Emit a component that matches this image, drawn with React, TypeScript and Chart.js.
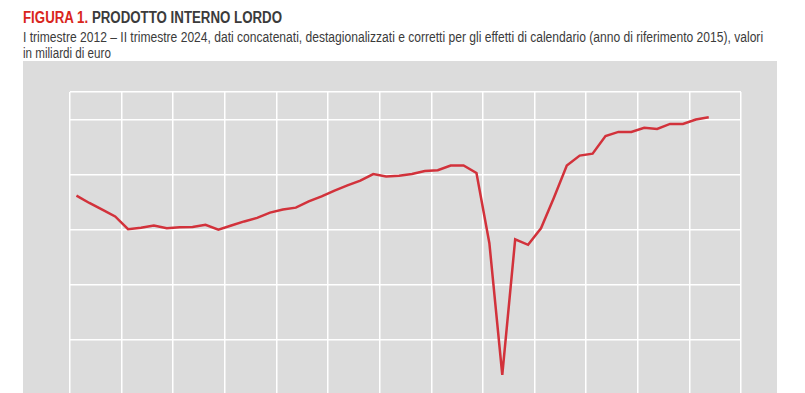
import React, { useEffect, useLayoutEffect, useRef } from "react";
import { Chart, registerables } from "chart.js";

Chart.register(...registerables);

// Quarters I 2012 – II 2024 (50 quarters)
const years = [2012, 2013, 2014, 2015, 2016, 2017, 2018, 2019, 2020, 2021, 2022, 2023, 2024];
const quarterLabels: string[] = [];
years.forEach((y) => ["I", "II", "III", "IV"].forEach((q) => quarterLabels.push(q + " " + y)));
const categories = quarterLabels.slice(0, 50);

// PIL, miliardi di euro (valori concatenati, anno di riferimento 2015)
const pil = [
  412.4, 409.7, 407.3, 404.8,
  400.2, 400.7, 401.5, 400.5,
  400.9, 401.0, 401.8, 400.0,
  401.5, 403.0, 404.3, 406.2,
  407.3, 408.0, 410.3, 412.1,
  414.2, 416.1, 417.8, 420.2,
  419.3, 419.6, 420.2, 421.3,
  421.6, 423.3, 423.3, 420.6,
  395.1, 347.3, 396.5, 394.5,
  400.5, 411.6, 423.3, 426.9,
  427.6, 434.0, 435.5, 435.5,
  437.0, 436.6, 438.4, 438.4,
  440.0, 440.8,
];

const yMin = 320;
const yMax = 450;
const yStep = 20;

function FitText(props: { width: number; style: React.CSSProperties; children: React.ReactNode }) {
  const ref = useRef<HTMLDivElement | null>(null);
  useLayoutEffect(() => {
    const el = ref.current;
    if (!el) return;
    el.style.transform = "none";
    const w = el.scrollWidth;
    if (w > 0) el.style.transform = `scaleX(${props.width / w})`;
  }, [props.width]);
  return (
    <div ref={ref} style={{ ...props.style, position: "absolute", whiteSpace: "nowrap", transformOrigin: "0 0" }}>
      {props.children}
    </div>
  );
}

export default function App() {
  const ref = useRef<HTMLCanvasElement | null>(null);
  useEffect(() => {
    if (!ref.current) return;
    const chart = new Chart(ref.current, {
      type: "line",
      data: {
        datasets: [
          {
            label: "PIL",
            data: pil.map((v, i) => ({ x: i + 0.5, y: v })),
            borderColor: "#d2323b",
            borderWidth: 2.5,
            pointRadius: 0,
            tension: 0,
            fill: false,
          },
        ],
      },
      options: {
        animation: false,
        responsive: false,
        maintainAspectRatio: false,
        layout: { padding: { left: 47, top: 31, right: 36, bottom: 31 } },
        plugins: { legend: { display: false }, tooltip: { enabled: false } },
        scales: {
          x: {
            type: "linear",
            min: 0,
            max: years.length * 4,
            ticks: { display: false, stepSize: 4 },
            grid: { color: "#ffffff", lineWidth: 1.5, drawTicks: false },
            border: { display: false },
          },
          y: {
            min: yMin,
            max: yMax,
            ticks: { display: false, stepSize: yStep },
            grid: { color: "#ffffff", lineWidth: 1.5, drawTicks: false },
            border: { display: false },
          },
        },
      },
    });
    return () => chart.destroy();
  }, []);

  const font = '"Liberation Sans", Arial, sans-serif';
  return (
    <div style={{ position: "fixed", left: 0, top: 0, width: 805, height: 393, overflow: "hidden", background: "#fff" }}>
      <FitText width={259} style={{ left: 23, top: 8, fontFamily: font, fontWeight: "bold", fontSize: 16, lineHeight: "20px", color: "#3b3b3b" }}>
        <span style={{ color: "#d9261c" }}>FIGURA 1.</span> PRODOTTO INTERNO LORDO
      </FitText>
      <FitText width={740} style={{ left: 23, top: 29, fontFamily: font, fontSize: 14, lineHeight: "16px", color: "#3b3b3b" }}>
        I trimestre 2012 – II trimestre 2024, dati concatenati, destagionalizzati e corretti per gli effetti di calendario (anno di riferimento 2015), valori
      </FitText>
      <FitText width={88} style={{ left: 23, top: 45, fontFamily: font, fontSize: 14, lineHeight: "16px", color: "#3b3b3b" }}>
        in miliardi di euro
      </FitText>
      <div style={{ position: "absolute", left: 23, top: 61, width: 754, height: 420, background: "#dcdcdc" }}>
        <canvas ref={ref} width={754} height={420} style={{ display: "block" }} />
      </div>
    </div>
  );
}
